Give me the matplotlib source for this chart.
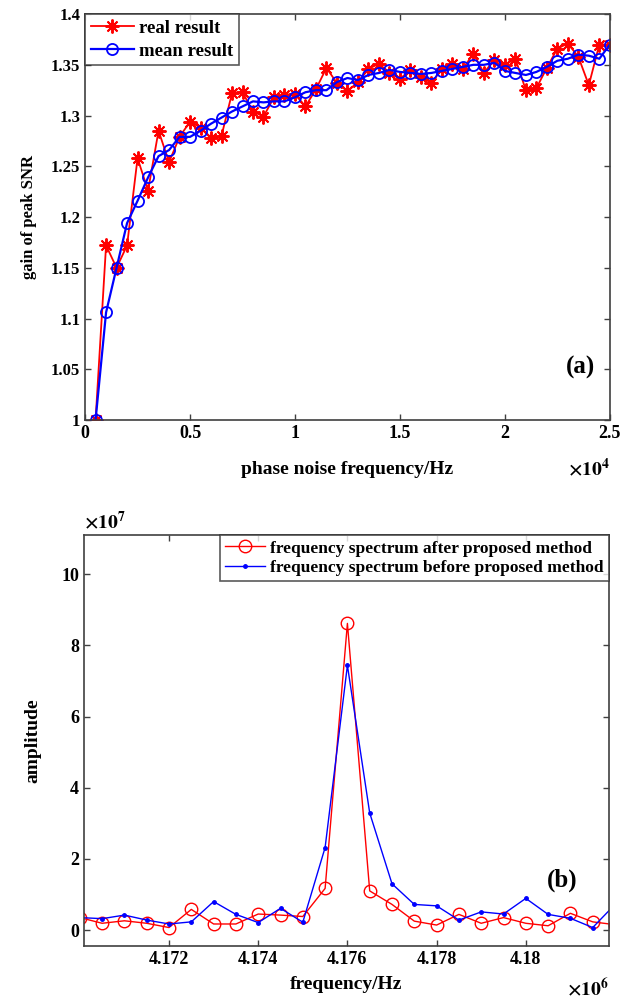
import numpy as np
import matplotlib
matplotlib.use('Agg')
import matplotlib.pyplot as plt
from matplotlib.ticker import FuncFormatter

plt.rcParams['font.family'] = 'Liberation Serif'
plt.rcParams['font.weight'] = 'bold'
plt.rcParams['mathtext.fontset'] = 'stix'

# (a) gain of peak SNR vs phase noise frequency
noise_freq = np.arange(500, 25001, 500)
real_result = [1.0, 1.172, 1.150, 1.172, 1.258, 1.226, 1.285, 1.254, 1.279, 1.294,
               1.288, 1.278, 1.280, 1.322, 1.323, 1.304, 1.299, 1.318, 1.320, 1.321,
               1.309, 1.326, 1.347, 1.332, 1.324, 1.333, 1.346, 1.351, 1.342, 1.336,
               1.345, 1.338, 1.332, 1.346, 1.351, 1.346, 1.361, 1.342, 1.355, 1.350,
               1.356, 1.325, 1.327, 1.347, 1.366, 1.371, 1.358, 1.330, 1.370, 1.370]
mean_result = [1.0, 1.106, 1.150, 1.194, 1.216, 1.239, 1.260, 1.266, 1.279, 1.279,
               1.285, 1.292, 1.298, 1.304, 1.309, 1.314, 1.313, 1.314, 1.314, 1.318,
               1.323, 1.325, 1.325, 1.333, 1.337, 1.335, 1.340, 1.342, 1.345, 1.343,
               1.342, 1.341, 1.342, 1.344, 1.346, 1.348, 1.350, 1.350, 1.352, 1.344,
               1.342, 1.340, 1.343, 1.348, 1.354, 1.356, 1.360, 1.359, 1.356, 1.370]

# (b) frequency spectrum around the peak
spec_freq = np.arange(4.1700e6, 4.18201e6, 500)
after_method = [0.35, 0.19, 0.26, 0.19, 0.07, 0.58, 0.17, 0.17, 0.45, 0.42,
                0.38, 1.17, 8.62, 1.10, 0.72, 0.25, 0.14, 0.44, 0.19, 0.35,
                0.19, 0.12, 0.47, 0.23, 0.15]
before_method = [0.35, 0.32, 0.42, 0.28, 0.17, 0.23, 0.80, 0.44, 0.21, 0.61,
                 0.22, 2.32, 7.44, 3.29, 1.30, 0.72, 0.68, 0.28, 0.51, 0.45,
                 0.89, 0.44, 0.33, 0.07, 0.72]

fig = plt.figure(figsize=(6.21, 10.06), dpi=100)
ax1 = fig.add_axes([0.137, 0.5825, 0.845, 0.4035])
ax2 = fig.add_axes([0.135, 0.0596, 0.846, 0.4084])

frame = '#404040'
for ax in (ax1, ax2):
    for s in ax.spines.values():
        s.set_color(frame)
        s.set_linewidth(1.2)
    ax.tick_params(direction='in', top=True, right=True, length=4, width=1,
                   color=frame, labelsize=13)

ax1.plot(noise_freq, real_result, color='red', marker=(8, 2, 0), markersize=10,
         markeredgewidth=1.4, linewidth=1.3, label='real result')
ax1.plot(noise_freq, mean_result, color='blue', marker='o', markersize=8,
         markerfacecolor='none', markeredgewidth=1.3, linewidth=1.6, label='mean result')
ax1.set_xlim(0, 25000)
ax1.set_ylim(1, 1.4)
ax1.set_xticks(np.arange(0, 25001, 5000))
ax1.xaxis.set_major_formatter(FuncFormatter(lambda v, p: '%g' % (v / 1e4)))
ax1.set_yticks(np.arange(1, 1.401, 0.05))
ax1.yaxis.set_major_formatter(FuncFormatter(lambda v, p: '%g' % round(v, 2)))
ax1.tick_params(axis='y', labelsize=12)
ax1.set_xlabel('phase noise frequency/Hz', fontsize=14, fontweight='bold', labelpad=14)
ax1.set_ylabel('gain of peak SNR', fontsize=12, fontweight='bold', labelpad=10)
ax1.text(1.0, -0.12, r'$\times10^4$', transform=ax1.transAxes, ha='right',
         va='center', fontsize=14)
ax1.text(0.945, 0.13, '(a)', transform=ax1.transAxes, ha='center', va='center',
         fontsize=18, fontweight='bold')
leg1 = ax1.legend(loc='upper left', fontsize=13.5, borderaxespad=0, handlelength=2.3,
                  handletextpad=0.3, fancybox=False, borderpad=0.3, labelspacing=0.3)
leg1.get_frame().set_edgecolor('#303030')
leg1.get_frame().set_linewidth(1.2)

ax2.plot(spec_freq, after_method, color='red', marker='o', markersize=9,
         markerfacecolor='none', linewidth=1.0,
         label='frequency spectrum after proposed method')
ax2.plot(spec_freq, before_method, color='blue', marker='.', markersize=5,
         linewidth=1.0, label='frequency spectrum before proposed method')
ax2.set_xlim(4.17009e6, 4.18187e6)
ax2.set_ylim(-0.45, 11.1)
ax2.set_xticks([4.172e6, 4.174e6, 4.176e6, 4.178e6, 4.18e6])
ax2.xaxis.set_major_formatter(FuncFormatter(lambda v, p: '%g' % round(v / 1e6, 4)))
ax2.set_yticks([0, 2, 4, 6, 8, 10])
ax2.set_xlabel('frequency/Hz', fontsize=14, fontweight='bold', labelpad=6)
ax2.set_ylabel('amplitude', fontsize=14, fontweight='bold', labelpad=14)
ax2.text(1.0, -0.103, r'$\times10^6$', transform=ax2.transAxes, ha='right',
         va='center', fontsize=14)
ax2.text(0.0, 1.035, r'$\times10^7$', transform=ax2.transAxes, ha='left',
         va='center', fontsize=14)
ax2.text(0.91, 0.16, '(b)', transform=ax2.transAxes, ha='center', va='center',
         fontsize=18, fontweight='bold')
leg2 = ax2.legend(loc='upper right', fontsize=12.5, borderaxespad=0, handlelength=2.3,
                  handletextpad=0.3, fancybox=False, borderpad=0.3, labelspacing=0.2)
leg2.get_frame().set_edgecolor('#303030')
leg2.get_frame().set_linewidth(1.2)

fig.savefig('out.png', dpi=100)
